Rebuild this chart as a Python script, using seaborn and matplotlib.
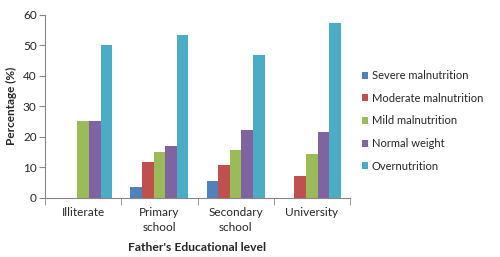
import matplotlib
matplotlib.use("Agg")
import matplotlib.pyplot as plt
import seaborn as sns
import pandas as pd
import numpy as np

categories = ["Illiterate", "Primary\nschool", "Secondary\nschool", "University"]
series = ["Severe malnutrition", "Moderate malnutrition", "Mild malnutrition",
          "Normal weight", "Overnutrition"]
severe = [0, 3.4, 5.4, 0]
moderate = [0, 11.8, 10.6, 7.2]
mild = [25.0, 15.0, 15.7, 14.3]
normal = [25.0, 16.9, 22.2, 21.5]
over = [50.0, 53.4, 46.9, 57.2]
colors = ["#4F81BD", "#C0504D", "#9BBB59", "#8064A2", "#4BACC6"]

rows = []
for s, vals in zip(series, [severe, moderate, mild, normal, over]):
    for c, v in zip(categories, vals):
        rows.append({"cat": c, "series": s, "value": v})
df = pd.DataFrame(rows)

sns.set_style("white")
plt.rcParams["font.family"] = ["Lato", "DejaVu Sans"]

fig = plt.figure(figsize=(5, 2.57), dpi=100)
ax = fig.add_axes([0.09, 0.231, 0.61, 0.711])
sns.barplot(data=df, x="cat", y="value", hue="series", order=categories,
            hue_order=series, palette=colors, width=0.76, saturation=1,
            edgecolor="none", linewidth=0, ax=ax, legend=True)

ax.set_ylim(0, 60)
ax.set_yticks(range(0, 61, 10))
ax.set_xlim(-0.5, 3.5)
ax.tick_params(axis="y", labelsize=8.5, length=4, color="#868686", direction="out", left=True, pad=2)
ax.tick_params(axis="x", which="major", labelsize=8.5, length=0, pad=7)
for t in ax.get_xticklabels():
    t.set_linespacing(1.45)
ax.set_xticks(np.arange(-0.5, 3.6, 1), minor=True)
ax.tick_params(axis="x", which="minor", length=5, color="#868686", direction="out", bottom=True)
for side in ["top", "right"]:
    ax.spines[side].set_visible(False)
for side in ["left", "bottom"]:
    ax.spines[side].set_color("#868686")
    ax.spines[side].set_linewidth(0.8)

ax.set_ylabel("Percentage (%)", fontsize=8.5, fontweight="bold", labelpad=4)
ax.set_xlabel("Father's Educational level", fontsize=8.7, fontweight="bold", labelpad=6)

leg = ax.legend(loc="center left", bbox_to_anchor=(1.005, 0.42), frameon=False,
                fontsize=8, handlelength=0.6, handleheight=0.6,
                handletextpad=0.3, labelspacing=1.05)

fig.savefig("out.png", dpi=100)
